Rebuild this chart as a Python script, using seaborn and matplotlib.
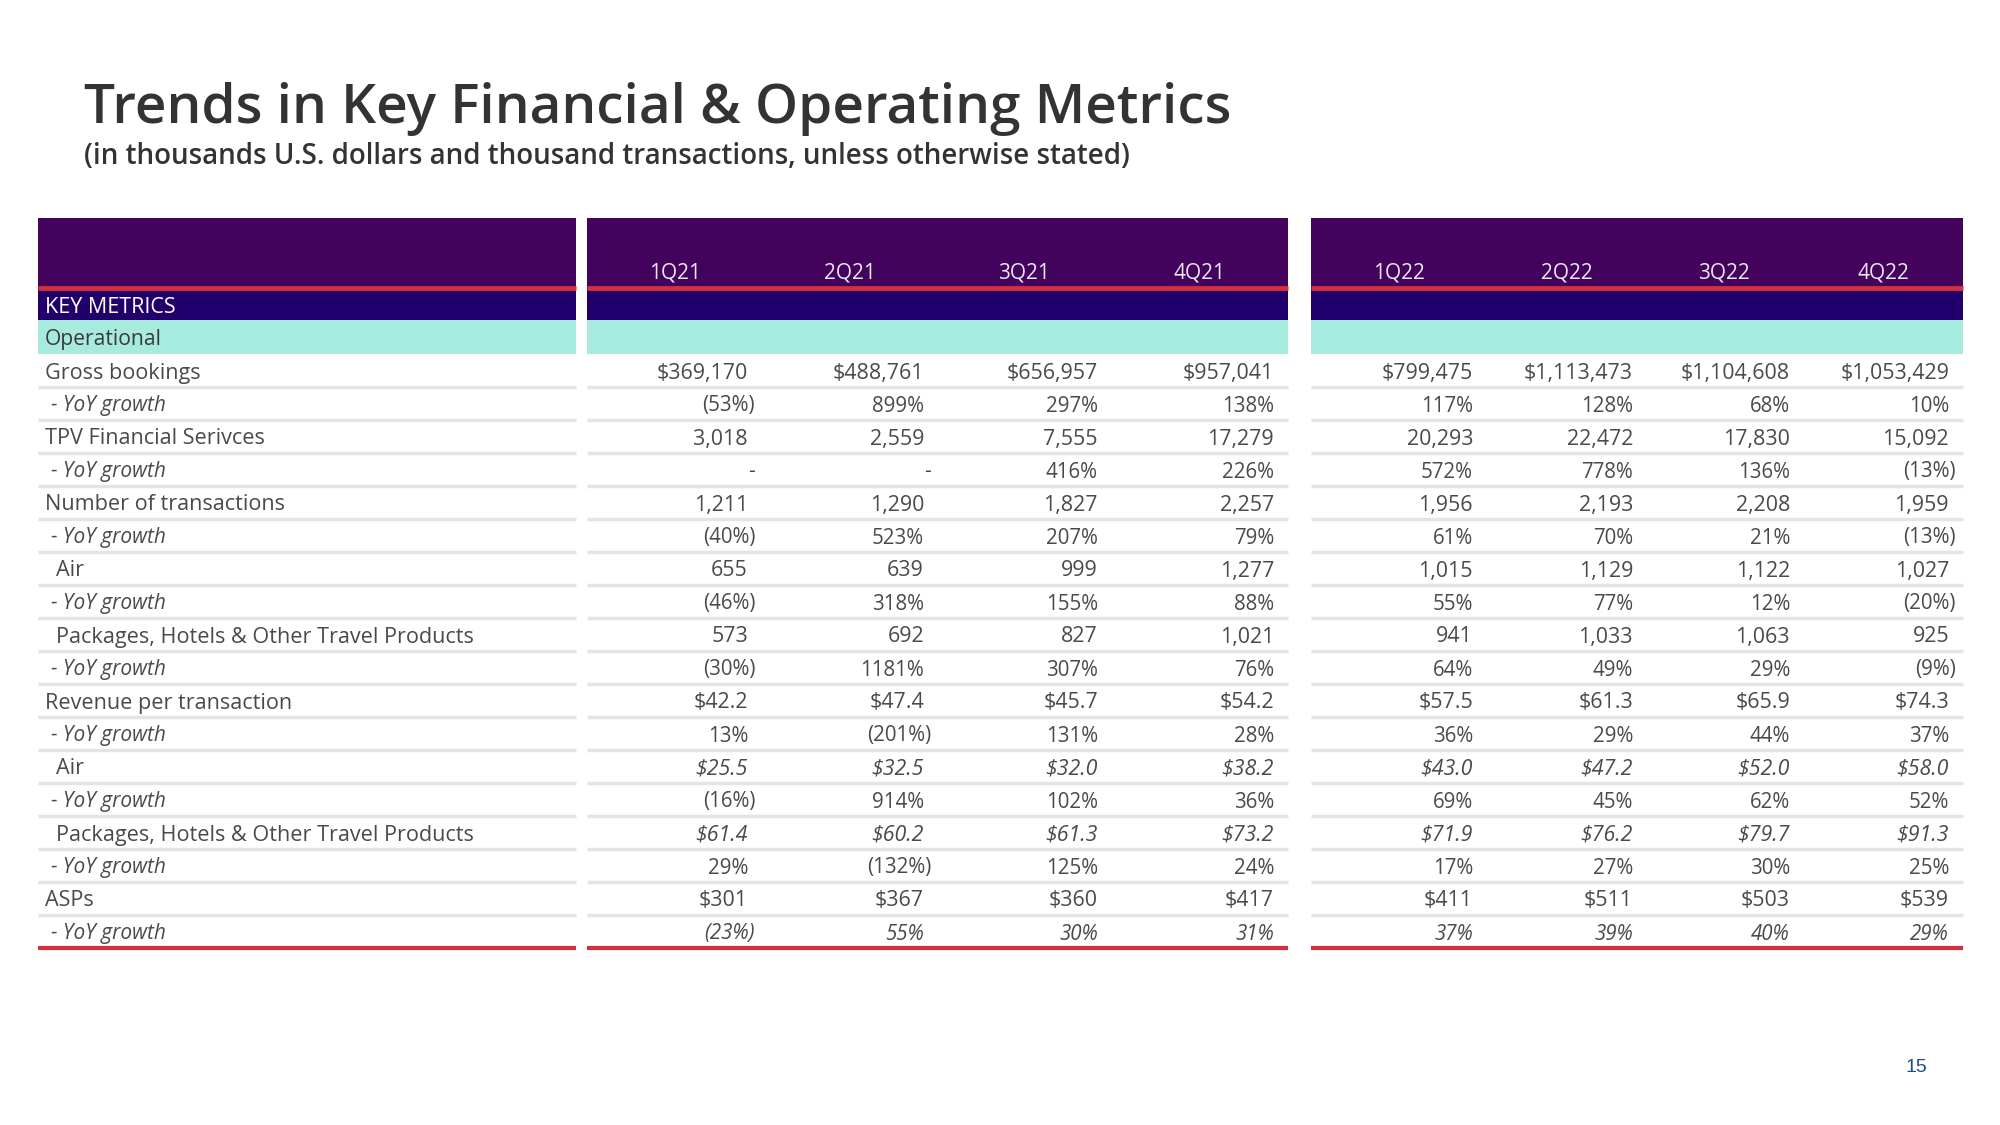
import numpy as np
import pandas as pd
import matplotlib
matplotlib.use("Agg")
import matplotlib.pyplot as plt
from matplotlib.patches import Rectangle
import seaborn as sns

# table data
quarters = ["1Q21", "2Q21", "3Q21", "4Q21", "1Q22", "2Q22", "3Q22", "4Q22"]

row_labels = [
    "Gross bookings", "- YoY growth",
    "TPV Financial Serivces", "- YoY growth",
    "Number of transactions", "- YoY growth",
    "Air", "- YoY growth",
    "Packages, Hotels & Other Travel Products", "- YoY growth",
    "Revenue per transaction", "- YoY growth",
    "Air", "- YoY growth",
    "Packages, Hotels & Other Travel Products", "- YoY growth",
    "ASPs", "- YoY growth",
]

gross_bookings = ["$369,170", "$488,761", "$656,957", "$957,041", "$799,475", "$1,113,473", "$1,104,608", "$1,053,429"]
gross_bookings_yoy = ["(53%)", "899%", "297%", "138%", "117%", "128%", "68%", "10%"]
tpv = ["3,018", "2,559", "7,555", "17,279", "20,293", "22,472", "17,830", "15,092"]
tpv_yoy = ["-", "-", "416%", "226%", "572%", "778%", "136%", "(13%)"]
transactions = ["1,211", "1,290", "1,827", "2,257", "1,956", "2,193", "2,208", "1,959"]
transactions_yoy = ["(40%)", "523%", "207%", "79%", "61%", "70%", "21%", "(13%)"]
air_tx = ["655", "639", "999", "1,277", "1,015", "1,129", "1,122", "1,027"]
air_tx_yoy = ["(46%)", "318%", "155%", "88%", "55%", "77%", "12%", "(20%)"]
pkg_tx = ["573", "692", "827", "1,021", "941", "1,033", "1,063", "925"]
pkg_tx_yoy = ["(30%)", "1181%", "307%", "76%", "64%", "49%", "29%", "(9%)"]
rev_per_tx = ["$42.2", "$47.4", "$45.7", "$54.2", "$57.5", "$61.3", "$65.9", "$74.3"]
rev_per_tx_yoy = ["13%", "(201%)", "131%", "28%", "36%", "29%", "44%", "37%"]
air_rev = ["$25.5", "$32.5", "$32.0", "$38.2", "$43.0", "$47.2", "$52.0", "$58.0"]
air_rev_yoy = ["(16%)", "914%", "102%", "36%", "69%", "45%", "62%", "52%"]
pkg_rev = ["$61.4", "$60.2", "$61.3", "$73.2", "$71.9", "$76.2", "$79.7", "$91.3"]
pkg_rev_yoy = ["29%", "(132%)", "125%", "24%", "17%", "27%", "30%", "25%"]
asps = ["$301", "$367", "$360", "$417", "$411", "$511", "$503", "$539"]
asps_yoy = ["(23%)", "55%", "30%", "31%", "37%", "39%", "40%", "29%"]

values = [gross_bookings, gross_bookings_yoy, tpv, tpv_yoy, transactions, transactions_yoy,
          air_tx, air_tx_yoy, pkg_tx, pkg_tx_yoy, rev_per_tx, rev_per_tx_yoy,
          air_rev, air_rev_yoy, pkg_rev, pkg_rev_yoy, asps, asps_yoy]
df = pd.DataFrame(values, columns=quarters)
df.insert(0, "metric", row_labels)

# style bits
indented = {6, 8, 12, 14}
italic_values = {12, 14, 17}

sns.set_theme(style="white")
plt.rcParams["font.family"] = ["Open Sans", "DejaVu Sans"]

PURPLE = "#43035c"
NAVY = "#22006b"
RED = "#d42f3b"
TEAL = "#a7ebdf"
GRID = "#e4e4e4"
TXT = "#4a4a4a"

fig = plt.figure(figsize=(20, 11.25), dpi=100)
ax = fig.add_axes([0, 0, 1, 1])
ax.set_xlim(0, 2000)
ax.set_ylim(1125, 0)
ax.axis("off")

ax.text(84, 103, "Trends in Key Financial & Operating Metrics", fontsize=39.5, fontweight="semibold",
        color="#333333", va="center_baseline")
ax.text(84, 153, "(in thousands U.S. dollars and thousand transactions, unless otherwise stated)",
        fontsize=20, fontweight="semibold", color="#333333", va="center_baseline")

panels = [(38, 576), (587, 1288), (1311, 1963)]
head_top, red_y, navy_bot, teal_bot = 218, 288, 320, 354
row_h = 33
n_rows = len(df)

for x0, x1 in panels:
    w = x1 - x0
    ax.add_patch(Rectangle((x0, head_top), w, red_y - head_top, color=PURPLE, lw=0))
    ax.add_patch(Rectangle((x0, red_y), w, navy_bot - red_y, color=NAVY, lw=0))
    ax.add_patch(Rectangle((x0, navy_bot), w, teal_bot - navy_bot, color=TEAL, lw=0))
    ax.hlines(red_y, x0, x1, color=RED, lw=3.5)
    for i in range(1, n_rows):
        ax.hlines(teal_bot + i * row_h, x0, x1, color=GRID, lw=2.5)
    ax.hlines(teal_bot + n_rows * row_h, x0, x1, color=RED, lw=3)

ax.text(45, 305, "KEY METRICS", fontsize=15.5, fontweight="medium", color="white", va="center_baseline")
ax.text(45, 337, "Operational", fontsize=15.2, color="#3a3a3a", va="center_baseline")

head_x = [675, 850, 1024, 1200, 1399, 1567, 1724, 1883]
right_x = [748, 924, 1098, 1274, 1473, 1633, 1790, 1949]
for q, hx in zip(quarters, head_x):
    ax.text(hx, 270, q, fontsize=15, fontweight="medium", color="#eee6f5", ha="center",
            va="center_baseline")

for i, row in df.iterrows():
    y = teal_bot + (i + 0.5) * row_h
    label = row["metric"]
    yoy = label.startswith("-")
    if yoy:
        ax.text(51, y, label, fontsize=15, style="italic", color=TXT, va="center_baseline")
    else:
        lx = 56 if i in indented else 45
        ax.text(lx, y, label, fontsize=15.6, color=TXT, va="center_baseline")
    for q, rx in zip(quarters, right_x):
        v = row[q]
        hang = 7 if (v.endswith(")") or v == "-") else 0
        ax.text(rx + hang, y, v, fontsize=14.8 if yoy else 15.4,
                style="italic" if i in italic_values else "normal",
                color=TXT, ha="right", va="center_baseline")

ax.text(1916, 1067, "15", fontsize=14, color="#1f4e8c", ha="center", va="center",
        family=["Liberation Sans", "DejaVu Sans"])

fig.savefig("out.png", dpi=100, facecolor="white")
